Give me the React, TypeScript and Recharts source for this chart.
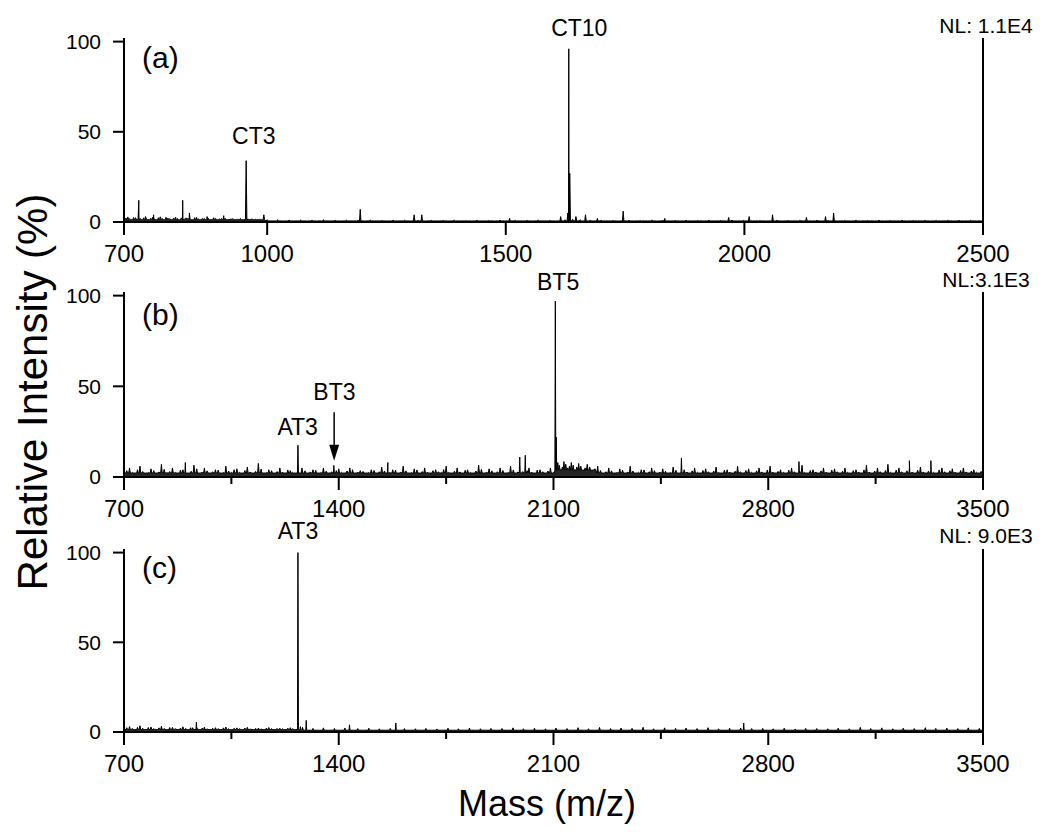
import React from "react";
import { ComposedChart, Area, XAxis, YAxis, ReferenceLine, ReferenceDot } from "recharts";

const FONT = "'Liberation Sans', Arial, Helvetica, sans-serif";

// ---- panel (a): 700 - 2500
const domainA = [700, 2500];
const majorTicksA = [700, 1000, 1500, 2000, 2500];
const minorTicksA: number[] = [];
const noiseA = [
  [700, 1.2], [708, 2.8], [716, 1.0], [724, 2.4], [738, 1.4], [745, 3.0], [752, 1.1], [760, 2.6],
  [768, 1.3], [776, 2.9], [784, 1.0], [792, 2.2], [800, 1.2], [808, 2.7], [816, 0.9], [830, 2.3],
  [844, 1.1], [852, 2.6], [860, 0.8], [868, 2.0], [880, 1.0], [888, 2.4], [896, 0.7], [904, 1.9],
  [916, 0.9], [924, 1.8], [932, 0.6], [940, 1.7], [948, 0.8], [964, 1.6], [972, 0.5], [980, 1.4],
  [988, 0.6], [1000, 1.3], [1010, 0.4], [1022, 1.2], [1034, 0.5], [1046, 1.0], [1058, 0.4], [1070, 1.1],
  [1082, 0.3], [1094, 0.9], [1106, 0.5], [1118, 1.2], [1130, 0.4], [1142, 0.8], [1154, 0.3], [1166, 1.0],
  [1178, 0.4], [1190, 0.9], [1204, 0.3], [1216, 1.1], [1228, 0.4], [1240, 0.8], [1252, 0.3], [1264, 0.9],
  [1276, 0.4], [1288, 1.0], [1300, 0.3], [1316, 0.8], [1332, 0.4], [1344, 0.9], [1356, 0.3], [1368, 0.8],
  [1380, 0.4], [1392, 1.0], [1404, 0.3], [1416, 0.7], [1428, 0.4], [1440, 0.9], [1452, 0.3], [1464, 0.8],
  [1476, 0.5], [1488, 1.0], [1500, 0.4], [1520, 0.9], [1532, 0.3], [1544, 0.8], [1556, 0.4], [1568, 1.0],
  [1580, 0.3], [1592, 0.9], [1604, 0.5], [1624, 1.2], [1640, 1.5], [1656, 1.2], [1676, 0.9], [1684, 0.4],
  [1700, 0.9], [1712, 0.3], [1724, 0.8], [1736, 0.4], [1758, 0.9], [1770, 0.3], [1782, 0.8], [1794, 0.4],
  [1806, 1.0], [1818, 0.3], [1830, 0.9], [1842, 0.4], [1854, 0.8], [1866, 0.3], [1878, 0.9], [1890, 0.4],
  [1902, 0.8], [1914, 0.3], [1926, 0.9], [1938, 0.4], [1950, 0.8], [1962, 0.3], [1974, 1.0], [1986, 0.4],
  [1998, 0.9], [2020, 0.3], [2032, 0.8], [2044, 0.4], [2068, 0.9], [2080, 0.3], [2092, 0.8], [2104, 0.4],
  [2116, 0.9], [2140, 0.3], [2152, 0.9], [2164, 0.4], [2176, 0.8], [2198, 0.3], [2210, 0.8], [2222, 0.4],
  [2234, 0.9], [2246, 0.3], [2258, 0.8], [2270, 0.4], [2282, 0.9], [2294, 0.3], [2306, 0.8], [2318, 0.4],
  [2330, 0.9], [2342, 0.3], [2354, 0.8], [2366, 0.4], [2378, 0.9], [2390, 0.3], [2402, 0.8], [2414, 0.4],
  [2426, 0.9], [2438, 0.3], [2450, 0.8], [2462, 0.4], [2474, 0.9], [2486, 0.3], [2500, 0.7],
];
const noiseA2 = [
  [704, 2.2], [712, 1.9], [720, 2.5], [734, 2.0], [741, 2.3], [756, 2.1], [764, 1.8], [772, 2.4],
  [780, 2.0], [788, 2.6], [796, 1.9], [804, 2.2], [812, 2.0], [820, 2.3], [826, 1.8], [834, 2.1],
  [848, 2.4], [856, 1.8], [864, 2.0], [876, 2.2], [884, 1.7], [892, 2.0], [900, 1.8], [912, 2.1],
  [920, 1.6], [928, 1.9], [936, 1.7], [944, 2.0], [960, 1.6], [968, 1.8], [976, 1.5], [984, 1.7],
];
const peaksA = [
  [731, 12], [762, 4], [823, 12], [837, 5], [874, 3], [909, 3.5], [956, 34], [993, 4],
  [1195, 7], [1308, 4], [1324, 4], [1508, 2], [1615, 3], [1630, 5], [1632, 96], [1634, 27],
  [1647, 3], [1667, 4], [1692, 2], [1746, 6], [1833, 2], [1967, 2.5], [2010, 3], [2059, 4],
  [2130, 2.5], [2170, 3], [2187, 5],
];
// level of the solid noise band: [from mass, % level]
const bandA = [[700, 1.3], [1000, 0.6]];
const labelsA = [
  { text: "CT10", m: 1654, v: 107.6 },
  { text: "CT3", m: 972, v: 47.5 },
];

// ---- panels (b) and (c): 700 - 3500
const domainBC = [700, 3500];
const majorTicksBC = [700, 1400, 2100, 2800, 3500];
const minorTicksBC = [1050, 1750, 2450, 3150];

const noiseB = [
  [700, 2], [718, 5], [736, 1.5], [752, 6], [770, 2], [788, 4.5], [806, 1], [822, 7],
  [840, 2.5], [858, 5], [876, 1.5], [892, 4], [910, 2], [928, 6.5], [946, 1], [962, 5],
  [980, 2], [998, 4], [1016, 1.5], [1032, 6], [1050, 2.5], [1068, 4.5], [1086, 1], [1102, 5.5],
  [1120, 2], [1138, 7.5], [1156, 1.5], [1172, 4], [1190, 2], [1208, 5], [1226, 1], [1242, 3.5],
  [1256, 2], [1280, 5], [1298, 1.5], [1316, 4], [1334, 2], [1350, 5], [1368, 1], [1400, 4.5],
  [1418, 1.5], [1436, 5], [1454, 2], [1470, 3.5], [1488, 1], [1506, 4], [1524, 2], [1540, 5.5],
  [1558, 1], [1576, 4], [1594, 2], [1610, 6], [1628, 1.5], [1646, 4.5], [1664, 2], [1680, 5],
  [1698, 1], [1716, 4], [1734, 2.5], [1750, 6], [1768, 1.5], [1786, 5], [1804, 2], [1820, 4],
  [1838, 1], [1856, 6.5], [1874, 2], [1890, 4.5], [1908, 1.5], [1926, 5], [1944, 2], [1960, 6],
  [1978, 2], [2000, 3], [2020, 5], [2038, 2], [2056, 4], [2074, 1.5], [2090, 5], [2100, 2.5],
  [2114, 8], [2124, 4], [2134, 8.5], [2146, 5], [2158, 8], [2170, 4], [2182, 7.5], [2196, 3.5],
  [2210, 7], [2226, 3], [2244, 6], [2262, 2], [2280, 5], [2298, 1.5], [2316, 4.5], [2334, 2],
  [2350, 6], [2368, 1.5], [2386, 4], [2404, 2], [2420, 5], [2438, 1], [2456, 4.5], [2474, 2],
  [2490, 5.5], [2508, 2], [2526, 4], [2544, 1.5], [2560, 5], [2578, 2], [2596, 4.5], [2614, 1],
  [2630, 5.5], [2648, 2], [2666, 4], [2684, 1.5], [2700, 6], [2718, 2], [2736, 4.5], [2754, 1],
  [2770, 5], [2788, 2], [2806, 6], [2824, 1.5], [2840, 4], [2858, 2], [2876, 5], [2894, 1],
  [2910, 6.5], [2928, 2], [2946, 4], [2964, 1.5], [2980, 5], [2998, 2], [3016, 4.5], [3034, 1],
  [3050, 5], [3068, 2], [3086, 4], [3104, 1.5], [3120, 6.5], [3138, 2], [3156, 5], [3174, 1.5],
  [3190, 7], [3208, 2], [3226, 5], [3244, 1], [3260, 4.5], [3278, 2], [3296, 5.5], [3314, 1.5],
  [3330, 4], [3348, 2], [3366, 5], [3384, 1], [3400, 4.5], [3418, 2], [3436, 5], [3454, 1.5],
  [3470, 4], [3488, 2], [3500, 3],
];
const noiseB2 = [
  [709, 3.5], [727, 2.5], [744, 4], [761, 3], [779, 2.5], [797, 3.5], [814, 2.8], [831, 4.2],
  [849, 3], [867, 2.6], [884, 3.8], [901, 2.4], [919, 3.2], [937, 4.5], [954, 2.7], [971, 3.4],
  [989, 2.9], [1007, 3.8], [1024, 2.5], [1041, 3.3], [1059, 4], [1077, 2.6], [1094, 3.6], [1111, 2.8],
  [1129, 3.1], [1147, 4.4], [1164, 2.5], [1181, 3.5], [1199, 3], [1217, 2.7], [1234, 3.9], [1249, 2.6],
  [1290, 3.4], [1307, 2.8], [1325, 3.7], [1342, 2.5], [1359, 3.2], [1377, 2.9], [1392, 3.5], [1409, 2.6],
  [1427, 3.3], [1445, 4], [1462, 2.7], [1479, 3.1], [1497, 2.5], [1515, 3.6], [1532, 2.9], [1549, 3.3],
  [1567, 2.6], [1585, 3.8], [1602, 2.8], [1619, 3.4], [1637, 2.5], [1655, 3.9], [1672, 3], [1689, 2.7],
  [1707, 3.5], [1725, 2.9], [1742, 4.1], [1759, 2.6], [1777, 3.2], [1795, 2.8], [1812, 3.7], [1829, 2.5],
  [1847, 3.3], [1865, 4.2], [1882, 2.7], [1899, 3.4], [1917, 2.9], [1935, 3.6], [1952, 2.6], [1969, 3.9],
  [1984, 2.8], [2014, 3.5], [2029, 2.7], [2047, 3.8], [2065, 2.9], [2082, 3.3], [2119, 6.5], [2129, 5.5],
  [2140, 7], [2152, 6], [2164, 6.5], [2176, 5.5], [2189, 6], [2203, 5], [2218, 5.5], [2235, 4.5],
  [2253, 3.6], [2271, 2.9], [2289, 3.4], [2307, 2.6], [2325, 3.8], [2342, 2.8], [2359, 3.3], [2377, 2.6],
  [2395, 3.9], [2412, 2.9], [2429, 3.5], [2447, 2.7], [2465, 3.2], [2482, 2.5], [2499, 3.7], [2535, 2.8],
  [2552, 3.4], [2569, 2.6], [2587, 3.6], [2605, 2.9], [2622, 3.3], [2639, 2.5], [2657, 3.8], [2675, 2.7],
  [2692, 3.2], [2709, 2.9], [2727, 3.6], [2745, 2.6], [2762, 3.4], [2779, 2.8], [2797, 3.9], [2815, 2.7],
  [2832, 3.1], [2849, 2.6], [2867, 3.7], [2885, 2.9], [2902, 3.3], [2919, 2.5], [2937, 3.6], [2955, 2.8],
  [2972, 3.4], [2989, 2.7], [3007, 3.8], [3025, 2.9], [3042, 3.2], [3059, 2.6], [3077, 3.5], [3095, 2.8],
  [3112, 3.9], [3129, 2.7], [3147, 3.3], [3165, 2.9], [3182, 3.6], [3199, 2.6], [3217, 3.8], [3235, 2.9],
  [3252, 3.4], [3269, 2.7], [3287, 3.7], [3305, 2.8], [3322, 3.2], [3339, 2.6], [3357, 3.9], [3375, 2.9],
  [3392, 3.4], [3409, 2.7], [3427, 3.6], [3445, 2.8], [3462, 3.3], [3479, 2.6], [3494, 3.1],
];
const peaksB = [
  [900, 8], [1267, 17.5], [1384, 6.4], [1560, 8], [1990, 11], [2008, 12], [2106, 97], [2109, 22],
  [2517, 10.5], [2900, 8.5], [3260, 9], [3330, 9],
];
const bandB = [[700, 2.2], [2104, 3.8], [2240, 2.2]];
const labelsB = [
  { text: "BT5", m: 2115, v: 107.7 },
  { text: "AT3", m: 1266, v: 27.6 },
  { text: "BT3", m: 1386, v: 46.9 },
];
const arrowB = { m: 1385, from: 35.7, to: 9 };

const noiseC = [
  [700, 1.5], [718, 3], [736, 1], [752, 3.5], [770, 1.2], [788, 2.8], [806, 1], [822, 3.2],
  [840, 1.4], [858, 2.6], [876, 0.8], [892, 2.9], [910, 1.2], [924, 2.4], [948, 1], [962, 2.7],
  [980, 0.8], [998, 2.4], [1016, 1.1], [1032, 2.8], [1050, 0.9], [1068, 2.3], [1086, 1], [1102, 2.6],
  [1120, 0.7], [1138, 2.2], [1156, 1], [1172, 2.5], [1190, 0.8], [1208, 2.1], [1226, 1], [1242, 2.4],
  [1258, 0.9], [1282, 2.6], [1300, 0.8], [1316, 2.0], [1334, 1], [1350, 2.3], [1368, 0.7], [1386, 2.0],
  [1404, 0.9], [1420, 2.2], [1446, 0.8], [1462, 1.9], [1480, 0.7], [1498, 2.1], [1516, 0.9], [1532, 1.8],
  [1550, 0.7], [1568, 2.0], [1598, 0.8], [1614, 1.9], [1632, 0.6], [1650, 1.8], [1668, 0.8], [1684, 2.0],
  [1702, 0.7], [1720, 1.7], [1738, 0.8], [1756, 2.1], [1774, 0.6], [1790, 1.8], [1808, 0.8], [1826, 2.2],
  [1844, 0.7], [1862, 1.8], [1880, 0.8], [1896, 2.0], [1914, 0.6], [1932, 1.9], [1950, 0.8], [1968, 2.3],
  [1986, 0.7], [2002, 1.8], [2020, 0.9], [2038, 2.1], [2056, 0.6], [2074, 1.8], [2092, 0.8], [2108, 2.2],
  [2126, 0.7], [2144, 1.9], [2162, 0.9], [2180, 2.4], [2198, 0.7], [2214, 1.8], [2232, 0.9], [2250, 2.5],
  [2268, 0.7], [2286, 1.9], [2304, 0.8], [2320, 2.2], [2338, 0.6], [2356, 2.0], [2374, 0.9], [2392, 2.6],
  [2410, 0.7], [2426, 1.8], [2444, 0.8], [2462, 2.3], [2480, 0.7], [2498, 2.0], [2516, 0.8], [2532, 2.2],
  [2550, 0.6], [2568, 1.9], [2586, 0.9], [2604, 2.4], [2622, 0.7], [2638, 1.8], [2656, 0.8], [2674, 2.1],
  [2692, 0.7], [2710, 2.2], [2730, 0.8], [2746, 1.9], [2764, 0.6], [2782, 2.0], [2800, 0.9], [2816, 1.8],
  [2834, 0.7], [2852, 2.1], [2870, 0.8], [2888, 1.7], [2906, 0.6], [2922, 2.0], [2940, 0.8], [2958, 1.9],
  [2976, 0.7], [2994, 1.8], [3012, 0.9], [3028, 2.1], [3046, 0.6], [3064, 1.8], [3082, 0.8], [3100, 2.6],
  [3118, 0.7], [3134, 1.9], [3152, 0.8], [3170, 2.3], [3188, 0.6], [3206, 1.8], [3224, 0.9], [3240, 2.1],
  [3258, 0.7], [3276, 1.9], [3294, 0.8], [3312, 2.4], [3330, 0.7], [3346, 2.0], [3364, 0.8], [3382, 2.2],
  [3400, 0.7], [3418, 1.9], [3436, 0.9], [3452, 2.3], [3470, 0.7], [3488, 2.0], [3500, 1.2],
];
const noiseC2 = [
  [709, 2.4], [727, 2.0], [744, 2.6], [761, 2.1], [779, 2.5], [797, 1.9], [814, 2.3], [831, 2.0],
  [849, 2.5], [867, 1.9], [884, 2.2], [901, 2.0], [917, 2.4], [940, 1.9], [955, 2.2], [971, 1.8],
  [989, 2.1], [1007, 1.9], [1024, 2.3], [1041, 1.8], [1059, 2.1], [1077, 1.9], [1094, 2.2], [1111, 1.8],
  [1129, 2.0], [1147, 1.8], [1164, 2.2], [1181, 1.9], [1199, 2.0], [1217, 1.8], [1234, 2.1], [1250, 1.9],
];
const peaksC = [
  [936, 5.5], [1267, 100], [1275, 3], [1294, 6.5], [1435, 4], [1586, 5], [2720, 5],
];
const bandC = [[700, 1.4], [1270, 1.0]];
const labelsC = [{ text: "AT3", m: 1267, v: 111.8 }];

const yTicks = [0, 50, 100];

// every reading is drawn as a thin stick that stands on the solid noise band
const spectrum = (noise: number[][], peaks: number[][], band: number[][]) => {
  const level = (m: number) => {
    let b = band[0][1];
    band.forEach(([from, v]) => {
      if (m >= from) b = v;
    });
    return b;
  };
  const pts: { m: number; v: number }[] = [];
  const stick = (m: number, v: number, half: number) => {
    const b = level(m);
    pts.push({ m: m - half, v: b }, { m, v: Math.max(v, b) }, { m: m + half, v: b });
  };
  noise.forEach(([m, v]) => stick(m, v, 2.5));
  peaks.forEach(([m, h]) => stick(m, h, 1.5));
  return pts.sort((a, b) => a.m - b.m);
};

const MassTick = (props: any) => {
  const { x, y, payload, major } = props;
  const isMajor = major.includes(payload.value);
  return (
    <g>
      <line x1={x} x2={x} y1={y} y2={y + (isMajor ? 13 : 7)} stroke="#000" strokeWidth={2} />
      {isMajor && (
        <text x={x} y={y + 40} textAnchor="middle" fontSize={24} fontFamily={FONT} fill="#000">
          {payload.value}
        </text>
      )}
    </g>
  );
};

const Panel = (props: any) => {
  const { top, plotH, data, domain, major, minor, labels, arrow } = props;
  const ticks = [...major, ...minor].sort((a, b) => a - b);
  return (
    <div style={{ position: "absolute", left: 0, top }}>
      <ComposedChart
        width={1050}
        height={30 + plotH + 50}
        data={data}
        margin={{ top: 30, right: 67, bottom: 0, left: 0 }}
      >
        <XAxis
          type="number"
          dataKey="m"
          domain={domain}
          ticks={ticks}
          interval={0}
          allowDataOverflow
          height={50}
          tickSize={0}
          tickMargin={0}
          tickLine={false}
          axisLine={{ stroke: "#000", strokeWidth: 2 }}
          tick={<MassTick major={major} />}
        />
        <YAxis
          type="number"
          domain={[0, 102]}
          ticks={yTicks}
          allowDataOverflow
          width={124}
          tickSize={11}
          tickMargin={12}
          tickLine={{ stroke: "#000", strokeWidth: 2 }}
          axisLine={{ stroke: "#000", strokeWidth: 2 }}
          tick={{ fontSize: 21, fontFamily: FONT, fill: "#000" }}
        />
        <ReferenceLine x={domain[1]} stroke="#000" strokeWidth={2} />
        <Area
          type="linear"
          dataKey="v"
          stroke="#000"
          strokeWidth={1}
          fill="#000"
          fillOpacity={0.85}
          baseValue={0}
          dot={false}
          activeDot={false}
          isAnimationActive={false}
        />
        {arrow && (
          <ReferenceLine
            segment={[{ x: arrow.m, y: arrow.from }, { x: arrow.m, y: arrow.to + 8 }]}
            stroke="#000"
            strokeWidth={1.5}
            ifOverflow="visible"
          />
        )}
        {arrow && (
          <ReferenceDot
            x={arrow.m}
            y={arrow.to}
            r={0}
            ifOverflow="visible"
            shape={(p: any) => (
              <polygon
                points={`${p.cx - 5},${p.cy - 16} ${p.cx + 5},${p.cy - 16} ${p.cx},${p.cy}`}
                fill="#000"
              />
            )}
          />
        )}
        {labels.map((l: any) => (
          <ReferenceDot
            key={l.text + l.m}
            x={l.m}
            y={l.v}
            r={0}
            ifOverflow="visible"
            shape={(p: any) => (
              <text
                x={p.cx}
                y={p.cy}
                textAnchor="middle"
                dominantBaseline="central"
                fontSize={23}
                fontFamily={FONT}
                fill="#000"
              >
                {l.text}
              </text>
            )}
          />
        ))}
      </ComposedChart>
    </div>
  );
};

const App = () => {
  const dataA = spectrum([...noiseA, ...noiseA2], peaksA, bandA);
  const dataB = spectrum([...noiseB, ...noiseB2], peaksB, bandB);
  const dataC = spectrum([...noiseC, ...noiseC2], peaksC, bandC);
  return (
    <div style={{ position: "absolute", left: 0, top: 0, width: 1050, height: 834, background: "#fff" }}>
      <Panel top={8} plotH={184} data={dataA} domain={domainA} major={majorTicksA} minor={minorTicksA} labels={labelsA} />
      <Panel top={262} plotH={185} data={dataB} domain={domainBC} major={majorTicksBC} minor={minorTicksBC} labels={labelsB} arrow={arrowB} />
      <Panel top={519} plotH={183} data={dataC} domain={domainBC} major={majorTicksBC} minor={minorTicksBC} labels={labelsC} />
      <svg
        width={1050}
        height={834}
        style={{ position: "absolute", left: 0, top: 0, pointerEvents: "none" }}
        fontFamily={FONT}
      >
        <text x={142} y={68} fontSize={30}>(a)</text>
        <text x={142} y={325} fontSize={30}>(b)</text>
        <text x={142} y={578} fontSize={30}>(c)</text>
        <text x={986} y={33} fontSize={21} textAnchor="middle">NL: 1.1E4</text>
        <text x={986} y={287} fontSize={21} textAnchor="middle">NL:3.1E3</text>
        <text x={986} y={543} fontSize={21} textAnchor="middle">NL: 9.0E3</text>
        <text x={547} y={816} fontSize={36} textAnchor="middle">Mass (m/z)</text>
        <text transform="translate(47, 392) rotate(-90)" fontSize={42} textAnchor="middle">
          Relative Intensity (%)
        </text>
      </svg>
    </div>
  );
};

export default App;
